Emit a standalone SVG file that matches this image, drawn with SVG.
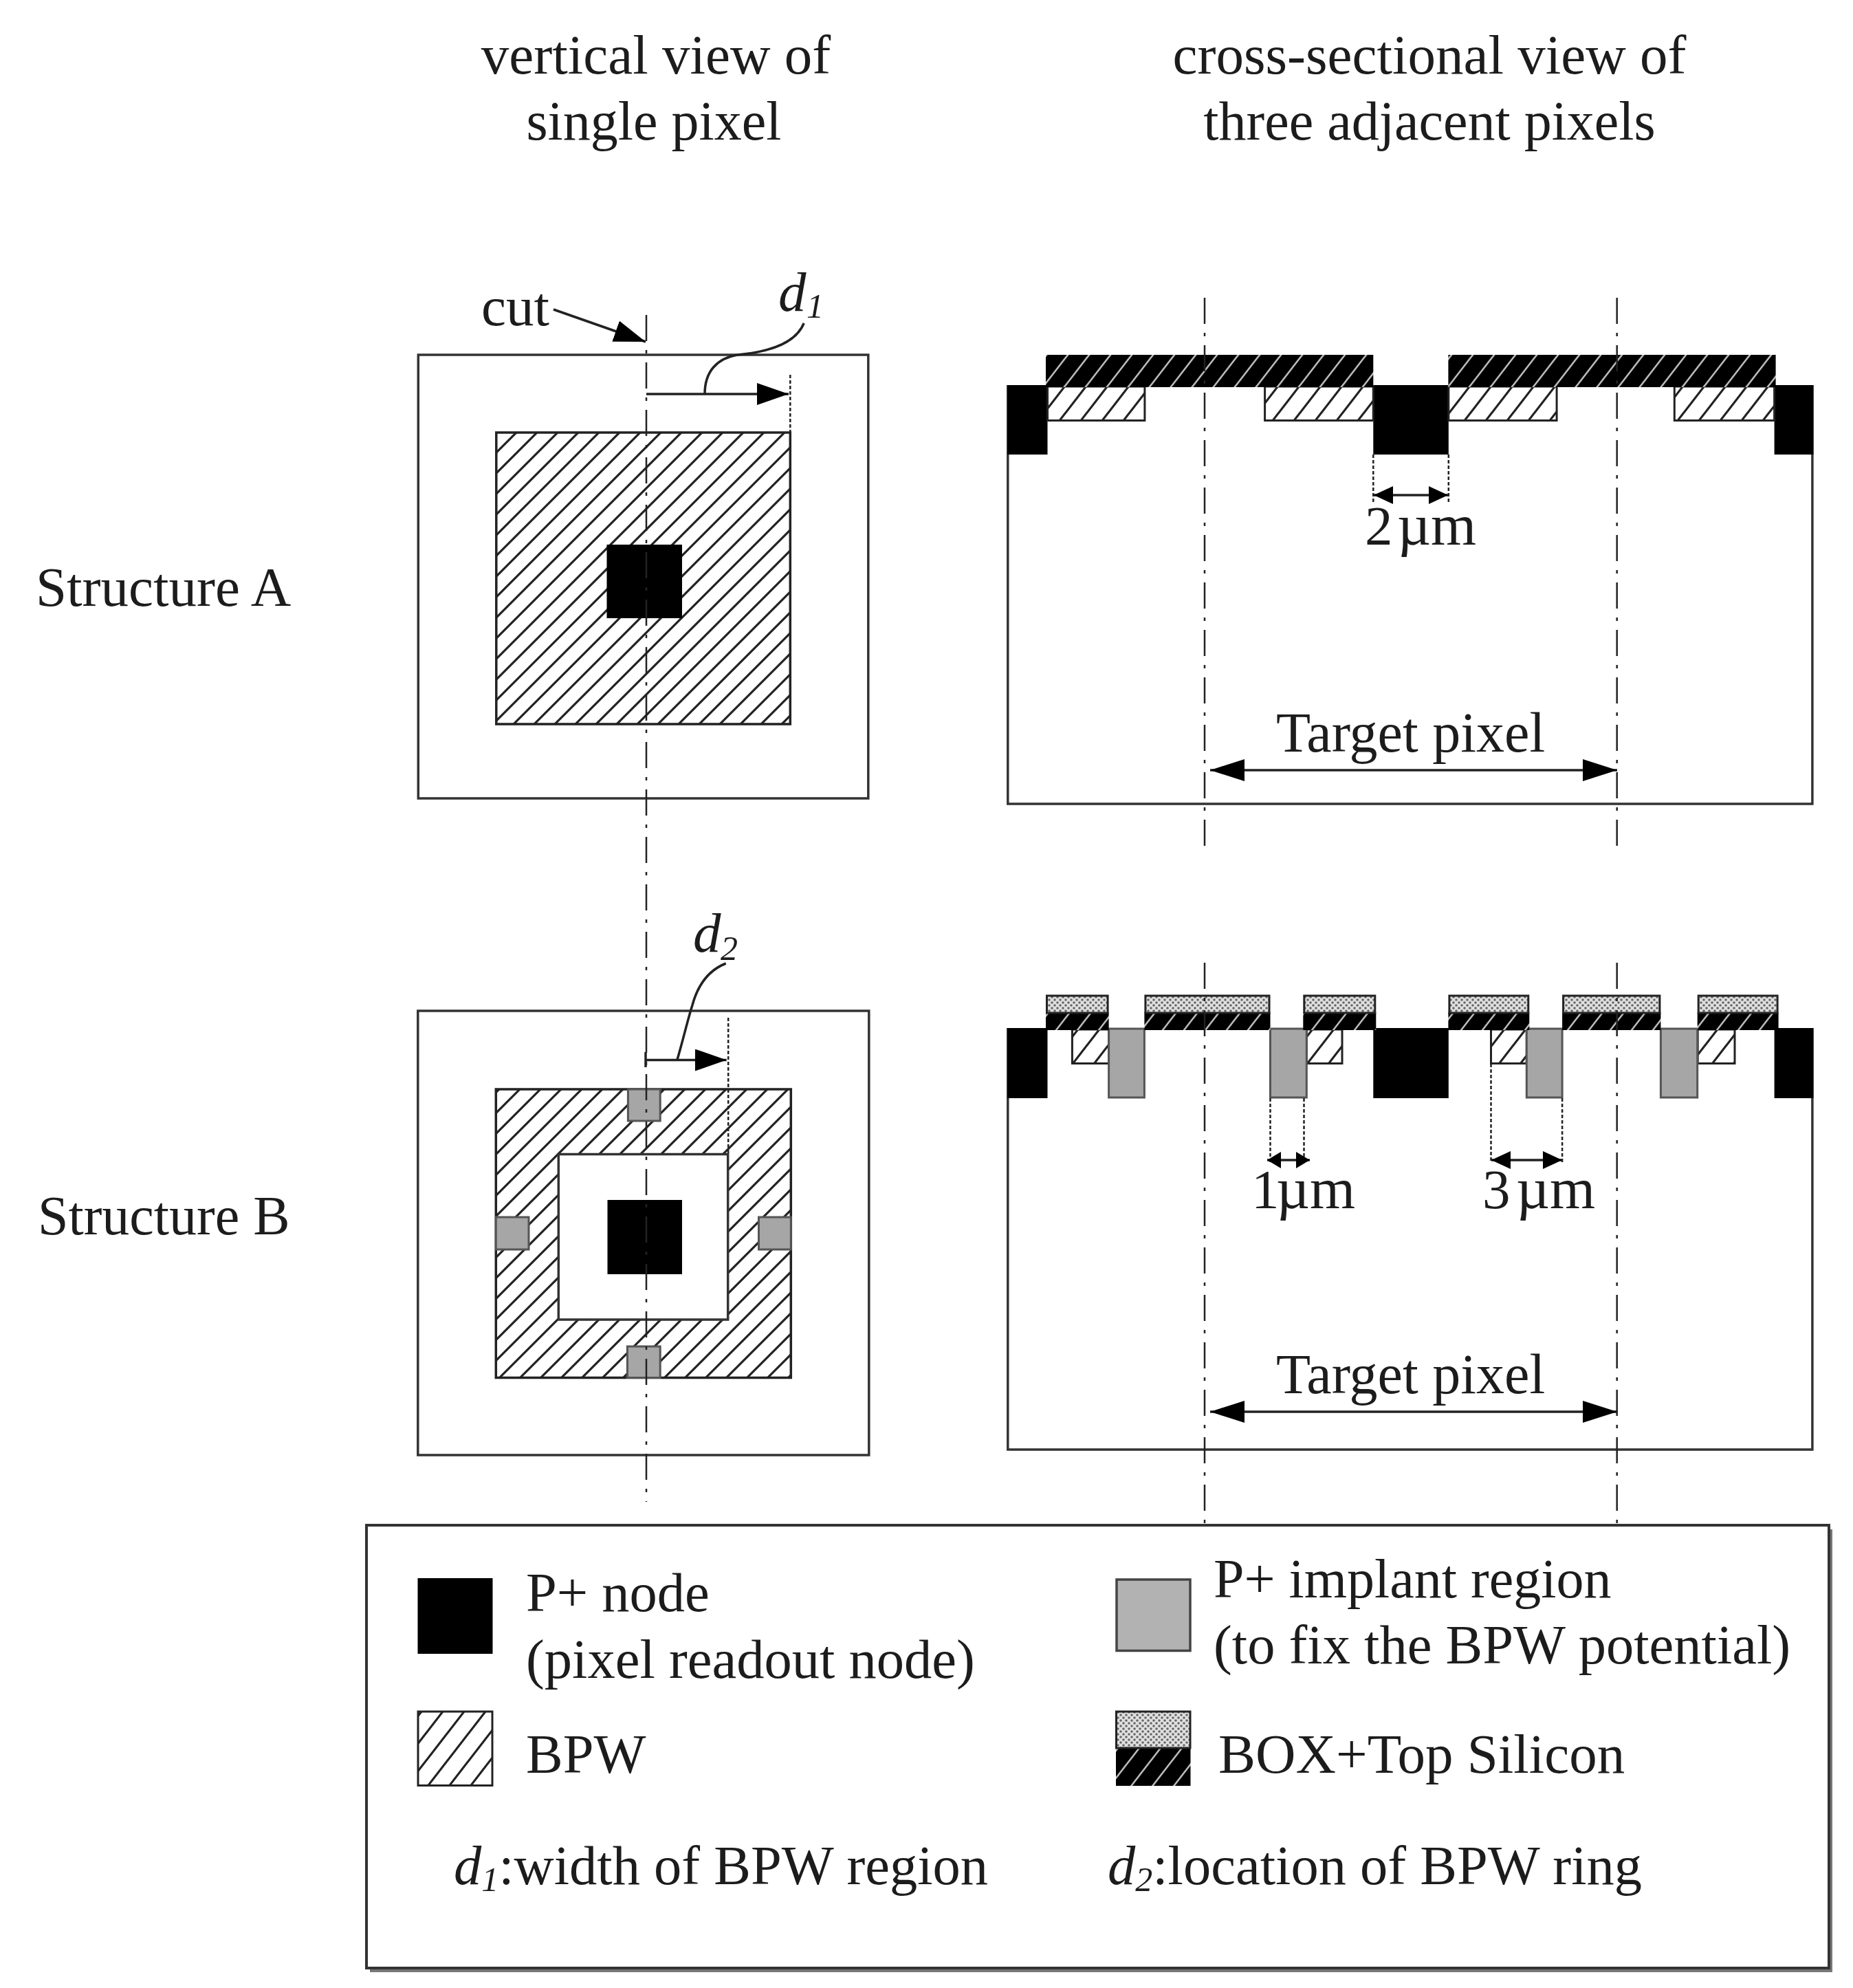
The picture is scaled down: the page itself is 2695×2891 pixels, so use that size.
<svg xmlns="http://www.w3.org/2000/svg" width="2695" height="2891" viewBox="0 0 2695 2891">
<style>
text{font-family:"Liberation Serif","Times New Roman",serif;font-size:81px;fill:#1c1c1c}
.i{font-style:italic}
.sub{font-style:italic;font-size:50px}
.m{text-anchor:middle}
.tp{font-size:82px}
.sb{font-size:80px}
.um{font-size:85px}
.lg{font-size:80.5px}
.o{fill:#fff;stroke:#333;stroke-width:3.5}
.b{fill:#000}
.g{fill:#a6a6a6;stroke:#555;stroke-width:3}
.h{fill:url(#hatchA);stroke:#222;stroke-width:3.5}
.hc{fill:url(#hatchC);stroke:#222;stroke-width:3}
.d{fill:url(#dark)}
.s{fill:url(#dots);stroke:#222;stroke-width:3}
.cl{fill:none;stroke:#222;stroke-width:2.5;stroke-dasharray:38 13 5 13}
.dt{fill:none;stroke:#222;stroke-width:2.5;stroke-dasharray:5 3}
.ln{fill:none;stroke:#222;stroke-width:3.5}
</style>
<defs>
<pattern id="hatchA" patternUnits="userSpaceOnUse" width="30" height="30">
<rect width="30" height="30" fill="#fff"/>
<path d="M-5 35L35 -5M-5 5L5 -5M25 35L35 25" stroke="#222" stroke-width="3.200" fill="none"/>
</pattern>
<pattern id="hatchC" patternUnits="userSpaceOnUse" width="31" height="40">
<rect width="31" height="40" fill="#fff"/>
<path d="M-3.100 44L34.100 -4M-3.100 4L3.100 -4M27.900 44L34.100 36" stroke="#222" stroke-width="3.200" fill="none"/>
</pattern>
<pattern id="dark" patternUnits="userSpaceOnUse" width="31" height="40">
<rect width="31" height="40" fill="#000"/>
<path d="M-3.100 44L34.100 -4M-3.100 4L3.100 -4M27.900 44L34.100 36" stroke="#bbb" stroke-width="2.600" fill="none"/>
</pattern>
<pattern id="dots" patternUnits="userSpaceOnUse" width="8" height="8">
<rect width="8" height="8" fill="#e0e0e0"/>
<circle cx="2" cy="2" r="1.800" fill="#666"/>
<circle cx="6" cy="6" r="1.800" fill="#666"/>
</pattern>
<marker id="ah" markerUnits="userSpaceOnUse" markerWidth="46" markerHeight="32" refX="46" refY="16" orient="auto"><path d="M0 0L46 16L0 32Z" fill="#000"/></marker>
<marker id="ahs" markerUnits="userSpaceOnUse" markerWidth="50" markerHeight="32" refX="50" refY="16" orient="auto-start-reverse"><path d="M0 0L50 16L0 32Z" fill="#000"/></marker>
<marker id="am" markerUnits="userSpaceOnUse" markerWidth="28" markerHeight="26" refX="28" refY="13" orient="auto-start-reverse"><path d="M0 0L28 13L0 26Z" fill="#000"/></marker>
<marker id="as" markerUnits="userSpaceOnUse" markerWidth="20" markerHeight="24" refX="20" refY="12" orient="auto-start-reverse"><path d="M0 0L20 12L0 24Z" fill="#000"/></marker>
</defs>
<rect width="2695" height="2891" fill="#fff"/>

<g id="headers">
<text class="m" x="954" y="107">vertical view of</text>
<text class="m sb" x="951" y="203">single pixel</text>
<text class="m" x="2079" y="107">cross-sectional view of</text>
<text class="m sb" x="2079" y="203">three adjacent pixels</text>
<text x="52" y="881">Structure A</text>
<text class="sb" x="55" y="1795">Structure B</text>
</g>

<g id="vertical-view-A">
<rect class="o" x="608.300" y="516" width="654.500" height="645"/>
<rect class="h" x="721.800" y="629" width="427.500" height="424"/>
<rect class="b" x="882.500" y="792" width="109.500" height="107"/>
</g>

<g id="vertical-view-B">
<rect class="o" x="607.800" y="1470" width="656" height="646"/>
<rect class="h" x="721.300" y="1584" width="429" height="419.500"/>
<rect class="o" x="812.300" y="1678.500" width="246.400" height="240.500"/>
<rect class="b" x="883.500" y="1745" width="108.500" height="108"/>
<rect class="g" x="913.400" y="1584" width="46.800" height="46"/>
<rect class="g" x="912.400" y="1958" width="47.800" height="45.500"/>
<rect class="g" x="721.300" y="1770" width="47.700" height="47"/>
<rect class="g" x="1103.500" y="1770" width="46.800" height="47"/>
</g>

<g id="cross-section-A">
<path class="o" d="M1465.800 560V1169H2635.900V560"/>
<rect class="b" x="1465.300" y="560" width="58.200" height="101"/>
<rect class="b" x="1997.300" y="560" width="109.500" height="101"/>
<rect class="b" x="2580.600" y="560" width="56.800" height="101"/>
<rect class="hc" x="1523.500" y="562" width="141.400" height="49.500"/>
<rect class="hc" x="1839.600" y="562" width="157.700" height="49.500"/>
<rect class="hc" x="2106.800" y="562" width="157.300" height="49.500"/>
<rect class="hc" x="2435.300" y="562" width="145.300" height="49.500"/>
<rect class="d" x="1521" y="516" width="476.300" height="47"/>
<rect class="d" x="2106.400" y="516" width="476.200" height="47"/>
</g>

<g id="cross-section-B">
<path class="o" d="M1465.800 1495V2108H2635.900V1495"/>
<rect class="b" x="1465.300" y="1495" width="58.200" height="102"/>
<rect class="b" x="1997.300" y="1495" width="109.500" height="102"/>
<rect class="b" x="2580.600" y="1495" width="56.800" height="102"/>
<rect class="hc" x="1559.400" y="1497" width="53.200" height="49.500"/>
<rect class="hc" x="1900.300" y="1497" width="51.700" height="49.500"/>
<rect class="hc" x="2168.500" y="1497" width="51.800" height="49.500"/>
<rect class="hc" x="2469.200" y="1497" width="53.800" height="49.500"/>
<rect class="g" x="1612.600" y="1496" width="51.800" height="100"/>
<rect class="g" x="1847.500" y="1496" width="52.800" height="100"/>
<rect class="g" x="2220.300" y="1496" width="51.800" height="100"/>
<rect class="g" x="2415.400" y="1496" width="53.300" height="100"/>
<rect class="d" x="1521" y="1472" width="91.600" height="26"/>
<rect class="d" x="1664.400" y="1472" width="183.100" height="26"/>
<rect class="d" x="1895.300" y="1472" width="106" height="26"/>
<rect class="d" x="2106.400" y="1472" width="117.900" height="26"/>
<rect class="d" x="2272.100" y="1472" width="143.300" height="26"/>
<rect class="d" x="2468.700" y="1472" width="117.900" height="26"/>
<rect class="s" x="1522.500" y="1448" width="88.600" height="25"/>
<rect class="s" x="1665.900" y="1448" width="180.100" height="25"/>
<rect class="s" x="1896.800" y="1448" width="103" height="25"/>
<rect class="s" x="2107.900" y="1448" width="114.900" height="25"/>
<rect class="s" x="2273.600" y="1448" width="140.300" height="25"/>
<rect class="s" x="2470.200" y="1448" width="114.900" height="25"/>
</g>

<g id="connectors">
<path class="cl" d="M940 458V2184"/>
<path class="cl" d="M1752 433V1235"/>
<path class="cl" d="M2351.700 433V1235"/>
<path class="cl" d="M1752 1400V2215"/>
<path class="cl" d="M2351.700 1400V2215"/>
<path class="ln" d="M805 450L939 497" marker-end="url(#ah)"/>
<path class="ln" d="M940 573H1147" marker-end="url(#ah)"/>
<path class="dt" d="M1149.300 545V628"/>
<path class="ln" d="M1025 573C1025 540 1043 521 1072.600 516C1117 512 1157 500 1169.200 470"/>
<path class="ln" d="M939 1541.500H1056.700" marker-end="url(#ah)"/>
<path class="ln" d="M939 1530V1552"/>
<path class="dt" d="M1059.200 1480V1678"/>
<path class="ln" d="M985 1541C994 1510 1001 1480 1006.900 1462C1016 1428 1033 1410 1055.700 1401"/>
<path class="dt" d="M1997.300 661V733"/>
<path class="dt" d="M2106.800 661V733"/>
<path class="ln" d="M1998 720H2106" marker-start="url(#am)" marker-end="url(#am)"/>
<path class="dt" d="M1847.500 1597V1690"/>
<path class="dt" d="M1896.500 1597V1690"/>
<path class="ln" d="M1843 1687H1905" marker-start="url(#as)" marker-end="url(#as)"/>
<path class="dt" d="M2168.500 1547V1690"/>
<path class="dt" d="M2272.100 1597V1690"/>
<path class="ln" d="M2169 1687H2272" marker-start="url(#am)" marker-end="url(#am)"/>
<path class="ln" d="M1760 1120H2352" marker-start="url(#ahs)" marker-end="url(#ahs)"/>
<path class="ln" d="M1760 2053H2352" marker-start="url(#ahs)" marker-end="url(#ahs)"/>
</g>

<g id="labels">
<text x="700" y="473">cut</text>
<text class="i" x="1132" y="452">d</text><text class="sub" x="1173" y="462">1</text>
<text class="i" x="1008" y="1384">d</text><text class="sub" x="1048" y="1396">2</text>
<text x="1985" y="792">2</text><text class="um" x="2032" y="792">µm</text>
<text x="1820" y="1757">1</text><text class="um" x="1856" y="1757">µm</text>
<text x="2156" y="1757">3</text><text class="um" x="2205" y="1757">µm</text>
<text class="tp" x="1856" y="1093">Target pixel</text>
<text class="tp" x="1856" y="2026">Target pixel</text>
</g>

<g id="legend">
<rect x="538" y="2224" width="2127" height="644" fill="#777"/>
<rect x="533" y="2218" width="2127" height="644" fill="#fff" stroke="#333" stroke-width="4"/>
<g id="legend-p-node">
<rect class="b" x="607.500" y="2295" width="109" height="110"/>
<text class="lg" x="765" y="2343">P+ node</text>
<text class="lg" x="765" y="2440">(pixel readout node)</text>
</g>
<g id="legend-bpw">
<rect class="hc" x="608" y="2489" width="108" height="107.500"/>
<text class="lg" x="765" y="2578">BPW</text>
</g>
<g id="legend-implant">
<rect x="1624" y="2297" width="107" height="103.500" fill="#b2b2b2" stroke="#444" stroke-width="3.500"/>
<text class="sb" x="1765" y="2323">P+ implant region</text>
<text class="lg" x="1765" y="2419">(to fix the BPW potential)</text>
</g>
<g id="legend-box">
<rect class="d" x="1623" y="2540" width="108.500" height="57"/>
<rect class="s" x="1623.500" y="2489" width="107.500" height="53"/>
<text x="1772" y="2578">BOX+Top Silicon</text>
</g>
<g id="legend-d1">
<text class="lg" x="660" y="2740"><tspan class="i">d</tspan><tspan class="sub" dy="10">1</tspan><tspan dy="-10">:width of BPW region</tspan></text>
</g>
<g id="legend-d2">
<text class="lg" x="1611" y="2740"><tspan class="i">d</tspan><tspan class="sub" dy="10">2</tspan><tspan dy="-10">:location of BPW ring</tspan></text>
</g>
</g>
</svg>
